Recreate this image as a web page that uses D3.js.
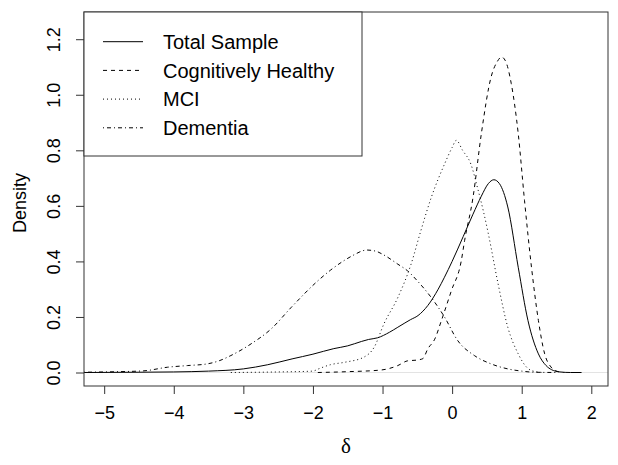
<!DOCTYPE html>
<html>
<head>
<meta charset="utf-8">
<script src="https://cdn.jsdelivr.net/npm/d3@7"></script>
<style>
  html, body { margin: 0; padding: 0; background: #fff; }
  svg { display: block; }
  text { font-family: "Liberation Sans", Arial, Helvetica, sans-serif; fill: #000; }
</style>
</head>
<body>
<svg id="chart" width="618" height="465"></svg>
<script>
// ---- data ----
const seriesNames = ["Total Sample", "Cognitively Healthy", "MCI", "Dementia"];

const totalX = [-5.29,-4.5,-4.0,-3.5,-3.0,-2.65,-2.3,-2.0,-1.7,-1.5,-1.3,-1.2,-1.07,-0.9,-0.78,-0.6,-0.49,-0.35,-0.2,-0.11,0.0,0.16,0.3,0.42,0.52,0.6,0.68,0.8,0.95,1.09,1.24,1.35,1.43,1.55,1.7,1.86];
const totalY = [0,0.001,0.002,0.005,0.013,0.028,0.049,0.066,0.086,0.096,0.112,0.119,0.125,0.145,0.163,0.19,0.205,0.241,0.30,0.343,0.40,0.49,0.57,0.635,0.68,0.694,0.68,0.596,0.379,0.187,0.067,0.025,0.01,0.002,0,0];

const healthyX = [-1.93,-1.5,-1.02,-0.78,-0.64,-0.5,-0.42,-0.35,-0.25,-0.15,-0.01,0.13,0.18,0.3,0.42,0.56,0.65,0.71,0.77,0.85,0.95,1.04,1.14,1.24,1.33,1.42,1.48,1.6];
const healthyY = [0,0.003,0.009,0.025,0.042,0.045,0.05,0.085,0.12,0.19,0.295,0.40,0.476,0.63,0.86,1.064,1.12,1.136,1.12,1.04,0.86,0.62,0.38,0.187,0.067,0.02,0.007,0];

const mciX = [-3.18,-2.5,-2.0,-1.93,-1.75,-1.54,-1.27,-1.12,-0.98,-0.78,-0.59,-0.45,-0.3,-0.11,0.0,0.06,0.15,0.27,0.37,0.45,0.52,0.66,0.8,0.95,1.05,1.14,1.3];
const mciY = [0,0.002,0.005,0.012,0.028,0.037,0.055,0.091,0.175,0.27,0.39,0.51,0.63,0.75,0.81,0.836,0.80,0.75,0.66,0.58,0.50,0.32,0.163,0.067,0.025,0.007,0];

const dementiaX = [-5.29,-4.8,-4.43,-4.09,-3.8,-3.52,-3.35,-3.18,-2.89,-2.6,-2.31,-1.93,-1.75,-1.54,-1.4,-1.3,-1.23,-1.1,-0.98,-0.78,-0.64,-0.5,-0.3,-0.11,0.08,0.32,0.56,0.8,1.0,1.18,1.5];
const dementiaY = [0.001,0.003,0.006,0.019,0.025,0.031,0.042,0.061,0.103,0.157,0.235,0.33,0.368,0.405,0.425,0.437,0.441,0.437,0.423,0.39,0.366,0.33,0.27,0.20,0.115,0.061,0.031,0.013,0.005,0.001,0];

const xTicks = [-5,-4,-3,-2,-1,0,1,2];
const yTicks = [0,0.2,0.4,0.6,0.8,1.0,1.2];
const xLabel = "δ";
const yLabel = "Density";

// ---- layout ----
const svg = d3.select("#chart");
const L = 84, R = 608, T = 12, B = 386;
const x = d3.scaleLinear().domain([-5.29, 2.24]).range([L, R]);
const y = d3.scaleLinear().domain([-0.0486, 1.298]).range([B, T]);

const dashes = ["none", "4,4", "1,3", "1,3,4,3"];
const series = [
  {name: seriesNames[0], xs: totalX, ys: totalY, dash: dashes[0]},
  {name: seriesNames[1], xs: healthyX, ys: healthyY, dash: dashes[1]},
  {name: seriesNames[2], xs: mciX, ys: mciY, dash: dashes[2]},
  {name: seriesNames[3], xs: dementiaX, ys: dementiaY, dash: dashes[3]}
];

// zero reference line
svg.append("line")
  .attr("x1", L).attr("x2", R).attr("y1", y(0)).attr("y2", y(0))
  .attr("stroke", "#e3e3e3").attr("stroke-width", 1);

const line = d3.line().x(d => x(d[0])).y(d => y(d[1])).curve(d3.curveMonotoneX);
series.forEach(s => {
  const pts = s.xs.map((v, i) => [v, s.ys[i]]);
  svg.append("path").datum(pts)
    .attr("d", line)
    .attr("fill", "none")
    .attr("stroke", "#000")
    .attr("stroke-width", 1)
    .attr("stroke-dasharray", s.dash);
});

// axes
const xAxis = d3.axisBottom(x).tickValues(xTicks).tickSize(8)
  .tickFormat(d => d < 0 ? "\u2212" + Math.abs(d) : String(d));
const gx = svg.append("g").attr("transform", `translate(0,${B})`).call(xAxis);
gx.select(".domain").remove();
gx.selectAll("line").attr("stroke", "#333");
gx.selectAll("text").style("font-size", "18px").attr("y", 33).attr("dy", 0);

const yAxis = d3.axisLeft(y).tickValues(yTicks).tickSize(8).tickFormat(d3.format(".1f"));
const gy = svg.append("g").attr("transform", `translate(${L},0)`).call(yAxis);
gy.select(".domain").remove();
gy.selectAll("line").attr("stroke", "#333");
gy.selectAll("text")
  .style("font-size", "18px")
  .attr("text-anchor", "middle")
  .attr("x", 0).attr("y", 0).attr("dy", 0)
  .attr("transform", "translate(-24,0) rotate(-90)");

// box
svg.append("rect").attr("x", L).attr("y", T).attr("width", R - L).attr("height", B - T)
  .attr("fill", "none").attr("stroke", "#333").attr("stroke-width", 1);

// axis labels
svg.append("text").attr("x", (L + R) / 2).attr("y", 453)
  .attr("text-anchor", "middle")
  .style("font-family", "'Liberation Serif', 'DejaVu Serif', serif")
  .style("font-size", "21px").text(xLabel);
svg.append("text")
  .attr("transform", `translate(26,${(T + B) / 2 + 4}) rotate(-90)`)
  .attr("text-anchor", "middle").style("font-size", "18px").text(yLabel);

// legend
const lg = svg.append("g");
lg.append("rect").attr("x", L).attr("y", T).attr("width", 278).attr("height", 144)
  .attr("fill", "#fff").attr("stroke", "#333").attr("stroke-width", 1);
series.forEach((s, i) => {
  const yy = 41.7 + i * 28.7;
  lg.append("line").attr("x1", 103).attr("x2", 143).attr("y1", yy).attr("y2", yy)
    .attr("stroke", "#000").attr("stroke-width", 1).attr("stroke-dasharray", s.dash);
  lg.append("text").attr("x", 163).attr("y", yy).attr("dy", "0.36em")
    .style("font-size", "20px").text(s.name);
});
</script>
</body>
</html>
